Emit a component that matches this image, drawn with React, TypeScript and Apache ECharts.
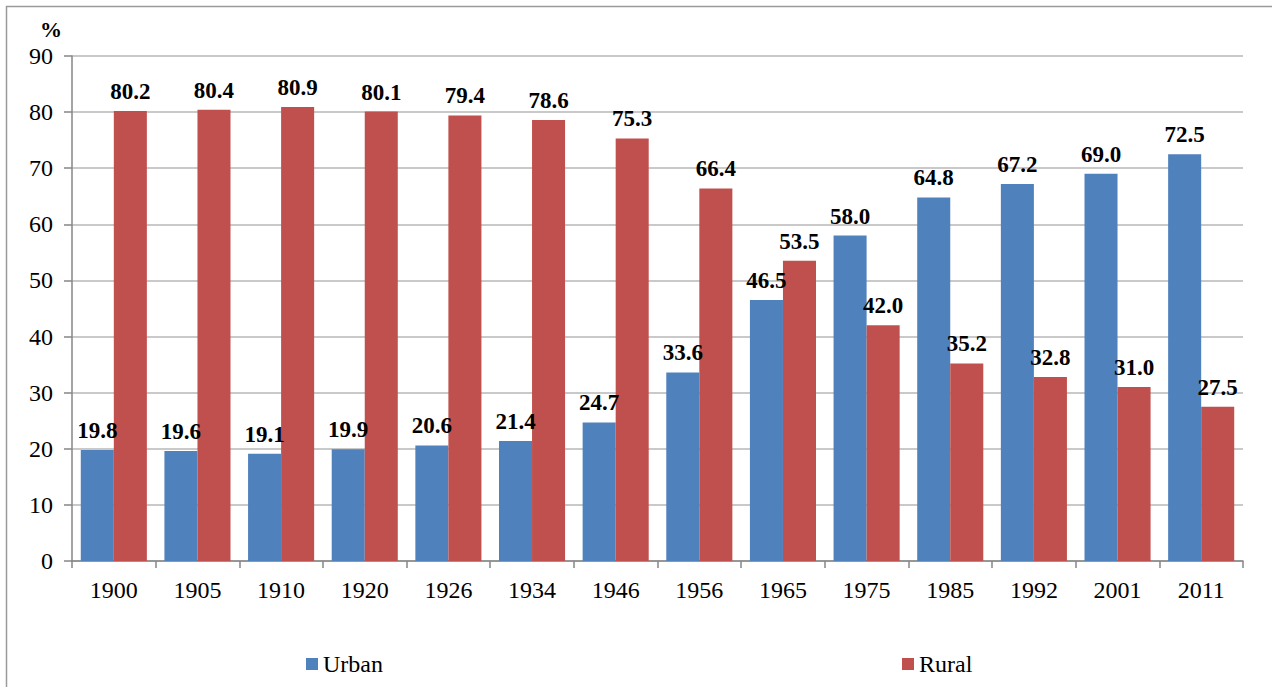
import React, { useEffect, useRef } from "react";
import * as echarts from "echarts";

const categories = ["1900", "1905", "1910", "1920", "1926", "1934", "1946", "1956", "1965", "1975", "1985", "1992", "2001", "2011"];
const urban = [19.8, 19.6, 19.1, 19.9, 20.6, 21.4, 24.7, 33.6, 46.5, 58.0, 64.8, 67.2, 69.0, 72.5];
const rural = [80.2, 80.4, 80.9, 80.1, 79.4, 78.6, 75.3, 66.4, 53.5, 42.0, 35.2, 32.8, 31.0, 27.5];

const FONT = "Liberation Serif, Times New Roman, serif";

export default function App() {
  const ref = useRef<HTMLDivElement>(null);
  useEffect(() => {
    const chart = echarts.init(ref.current!, null, { renderer: "svg" });
    const label = {
      show: true,
      position: "top",
      distance: 8,
      fontFamily: FONT,
      fontWeight: "bold",
      fontSize: 23,
      color: "#000",
      formatter: (p: any) => Number(p.value).toFixed(1),
    };
    chart.setOption({
      animation: false,
      backgroundColor: "#fff",
      textStyle: { fontFamily: FONT },
      graphic: [
        {
          type: "polyline",
          shape: { points: [[6.5, 700], [6.5, 6.5], [1272, 6.5]] },
          style: { stroke: "#9a9a9a", lineWidth: 1.5, fill: "none" },
          silent: true,
        },
        {
          type: "text",
          left: 40,
          top: 18,
          style: { text: "%", fontFamily: FONT, fontWeight: "bold", fontSize: 22, fill: "#000" },
        },
      ],
      grid: { left: 72, right: 29, top: 56, bottom: 126, containLabel: false },
      legend: {
        bottom: 6,
        left: 301,
        itemGap: 519,
        itemWidth: 12,
        itemHeight: 12,
        icon: "rect",
        textStyle: { fontFamily: FONT, fontSize: 24, color: "#000" },
        data: ["Urban", "Rural"],
      },
      xAxis: {
        type: "category",
        data: categories,
        axisLine: { lineStyle: { color: "#868686", width: 1.5 } },
        axisTick: { show: true, length: 7, alignWithLabel: false, lineStyle: { color: "#868686", width: 1.5 } },
        axisLabel: { fontFamily: FONT, fontSize: 24, color: "#000", margin: 17 },
      },
      yAxis: {
        type: "value",
        min: 0,
        max: 90,
        interval: 10,
        axisLine: { show: true, lineStyle: { color: "#868686", width: 1.5 } },
        axisTick: { show: true, length: 8, inside: false, lineStyle: { color: "#868686", width: 1.5 } },
        axisLabel: { fontFamily: FONT, fontSize: 24, color: "#000", margin: 19 },
        splitLine: { lineStyle: { color: "#b7b7b7", width: 1.5 } },
      },
      series: [
        {
          name: "Urban",
          type: "bar",
          data: urban,
          itemStyle: { color: "#4F81BD" },
          barGap: "0%",
          barCategoryGap: "21%",
          label,
        },
        {
          name: "Rural",
          type: "bar",
          data: rural,
          itemStyle: { color: "#C0504D" },
          barGap: "0%",
          barCategoryGap: "21%",
          label,
        },
      ],
    });
    return () => chart.dispose();
  }, []);
  return (
    <div
      ref={ref}
      style={{ position: "absolute", left: 0, top: 0, width: 1272, height: 687 }}
    />
  );
}
